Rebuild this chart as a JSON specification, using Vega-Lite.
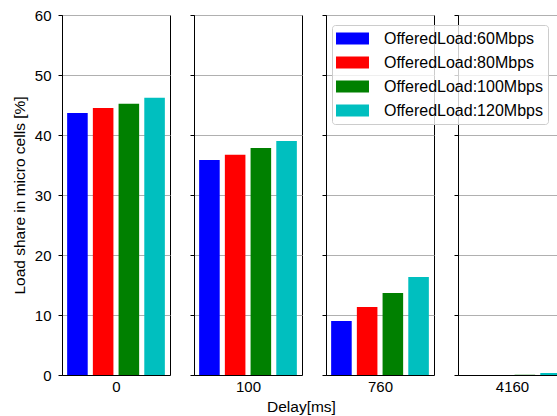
{
  "$schema": "https://vega.github.io/schema/vega-lite/v6.json",
  "padding": {"left": 11, "top": 7, "right": 0, "bottom": 0},
  "background": "white",
  "data": {"values": [
    {"delay": "0", "load": "OfferedLoad:60Mbps", "share": 43.65},
    {"delay": "0", "load": "OfferedLoad:80Mbps", "share": 44.5},
    {"delay": "0", "load": "OfferedLoad:100Mbps", "share": 45.2},
    {"delay": "0", "load": "OfferedLoad:120Mbps", "share": 46.2},
    {"delay": "100", "load": "OfferedLoad:60Mbps", "share": 35.85},
    {"delay": "100", "load": "OfferedLoad:80Mbps", "share": 36.7},
    {"delay": "100", "load": "OfferedLoad:100Mbps", "share": 37.85},
    {"delay": "100", "load": "OfferedLoad:120Mbps", "share": 39.0},
    {"delay": "760", "load": "OfferedLoad:60Mbps", "share": 9.0},
    {"delay": "760", "load": "OfferedLoad:80Mbps", "share": 11.35},
    {"delay": "760", "load": "OfferedLoad:100Mbps", "share": 13.65},
    {"delay": "760", "load": "OfferedLoad:120Mbps", "share": 16.35},
    {"delay": "4160", "load": "OfferedLoad:60Mbps", "share": 0},
    {"delay": "4160", "load": "OfferedLoad:80Mbps", "share": 0},
    {"delay": "4160", "load": "OfferedLoad:100Mbps", "share": 0.03},
    {"delay": "4160", "load": "OfferedLoad:120Mbps", "share": 0.33}
  ]},
  "title": {"text": "Delay[ms]", "orient": "bottom", "anchor": "start", "frame": "group", "dx": 205, "fontSize": 15.5, "fontWeight": "normal", "font": "Liberation Sans", "offset": 5, "color": "black"},
  "spacing": 18,
  "config": {
    "font": "Liberation Sans",
    "view": {"stroke": "black", "strokeWidth": 1},
    "axis": {"domainColor": "black", "tickColor": "black", "labelColor": "black", "titleColor": "black", "labelFontSize": 15, "titleFontSize": 15, "titleFontWeight": "normal", "gridColor": "#b0b0b0", "gridOpacity": 1, "gridWidth": 1, "tickSize": 4, "labelPadding": 7}
  },
  "hconcat": [
    {
      "width": 108, "height": 360,
      "transform": [{"filter": "datum.delay == '0'"}],
      "mark": "bar",
      "encoding": {
        "x": {"field": "load", "type": "nominal", "sort": ["OfferedLoad:60Mbps", "OfferedLoad:80Mbps", "OfferedLoad:100Mbps", "OfferedLoad:120Mbps"], "scale": {"paddingInner": 0.2, "paddingOuter": 0.2}, "axis": {"title": "0", "labels": false, "ticks": false, "domain": true, "titlePadding": 4}},
        "y": {"field": "share", "type": "quantitative", "scale": {"domain": [0, 60]}, "axis": {"title": "Load share in micro cells [%]", "titleFontSize": 15.5, "values": [0, 10, 20, 30, 40, 50, 60], "titlePadding": 7}},
        "color": {"field": "load", "type": "nominal", "sort": ["OfferedLoad:60Mbps", "OfferedLoad:80Mbps", "OfferedLoad:100Mbps", "OfferedLoad:120Mbps"], "scale": {"domain": ["OfferedLoad:60Mbps", "OfferedLoad:80Mbps", "OfferedLoad:100Mbps", "OfferedLoad:120Mbps"], "range": ["#0000ff", "#ff0000", "#008000", "#00bfbf"]}, "legend": {"title": null, "orient": "none", "legendX": 270, "legendY": 10, "symbolType": "M-2,-0.72L2,-0.72L2,0.72L-2,0.72Z", "symbolSize": 272, "symbolOffset": 7, "symbolStrokeWidth": 0, "symbolOpacity": 1, "labelFontSize": 16, "labelColor": "black", "labelOffset": 23, "rowPadding": 7, "fillColor": "rgba(255,255,255,0.8)", "strokeColor": "#cccccc", "cornerRadius": 3, "padding": 5}}
      }
    },
    {
      "width": 108, "height": 360,
      "transform": [{"filter": "datum.delay == '100'"}],
      "mark": "bar",
      "encoding": {
        "x": {"field": "load", "type": "nominal", "sort": ["OfferedLoad:60Mbps", "OfferedLoad:80Mbps", "OfferedLoad:100Mbps", "OfferedLoad:120Mbps"], "scale": {"paddingInner": 0.2, "paddingOuter": 0.2}, "axis": {"title": "100", "labels": false, "ticks": false, "domain": true, "titlePadding": 4}},
        "y": {"field": "share", "type": "quantitative", "scale": {"domain": [0, 60]}, "axis": {"title": null, "labels": false, "values": [0, 10, 20, 30, 40, 50, 60]}},
        "color": {"field": "load", "type": "nominal", "sort": ["OfferedLoad:60Mbps", "OfferedLoad:80Mbps", "OfferedLoad:100Mbps", "OfferedLoad:120Mbps"]}
      }
    },
    {
      "width": 108, "height": 360,
      "transform": [{"filter": "datum.delay == '760'"}],
      "mark": "bar",
      "encoding": {
        "x": {"field": "load", "type": "nominal", "sort": ["OfferedLoad:60Mbps", "OfferedLoad:80Mbps", "OfferedLoad:100Mbps", "OfferedLoad:120Mbps"], "scale": {"paddingInner": 0.2, "paddingOuter": 0.2}, "axis": {"title": "760", "labels": false, "ticks": false, "domain": true, "titlePadding": 4}},
        "y": {"field": "share", "type": "quantitative", "scale": {"domain": [0, 60]}, "axis": {"title": null, "labels": false, "values": [0, 10, 20, 30, 40, 50, 60]}},
        "color": {"field": "load", "type": "nominal", "sort": ["OfferedLoad:60Mbps", "OfferedLoad:80Mbps", "OfferedLoad:100Mbps", "OfferedLoad:120Mbps"]}
      }
    },
    {
      "width": 108, "height": 360,
      "transform": [{"filter": "datum.delay == '4160'"}],
      "mark": "bar",
      "encoding": {
        "x": {"field": "load", "type": "nominal", "sort": ["OfferedLoad:60Mbps", "OfferedLoad:80Mbps", "OfferedLoad:100Mbps", "OfferedLoad:120Mbps"], "scale": {"paddingInner": 0.2, "paddingOuter": 0.2}, "axis": {"title": "4160", "labels": false, "ticks": false, "domain": true, "titlePadding": 4}},
        "y": {"field": "share", "type": "quantitative", "scale": {"domain": [0, 60]}, "axis": {"title": null, "labels": false, "values": [0, 10, 20, 30, 40, 50, 60]}},
        "color": {"field": "load", "type": "nominal", "sort": ["OfferedLoad:60Mbps", "OfferedLoad:80Mbps", "OfferedLoad:100Mbps", "OfferedLoad:120Mbps"]}
      }
    }
  ]
}
